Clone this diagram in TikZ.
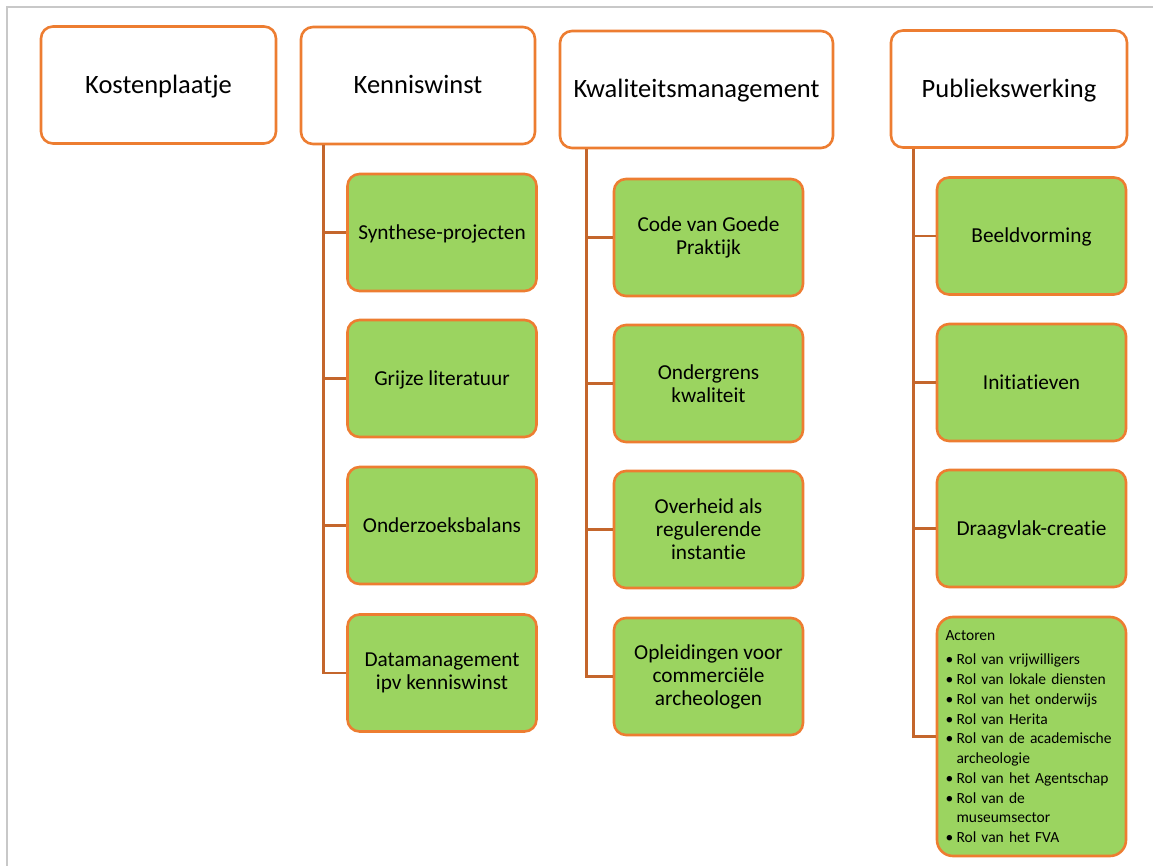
\documentclass[tikz,border=0pt]{standalone}
\usepackage{fontspec}
\setmainfont{Carlito}[Ligatures={NoCommon,NoContextual}]
\definecolor{boxline}{RGB}{237,125,49}
\definecolor{connline}{RGB}{196,102,44}
\definecolor{leafgreen}{RGB}{155,212,96}
\definecolor{frameline}{RGB}{200,200,200}
\tikzset{
  headbox/.style={draw=boxline, fill=white, line width=2.6pt, rounded corners=12pt,
    minimum height=117pt, inner sep=0pt,
    text height=17pt, text depth=0pt,
    font=\fontsize{26.5}{30}\selectfont},
  leafbox/.style={draw=boxline, fill=leafgreen, line width=2.6pt, rounded corners=12pt,
    minimum width=189pt, minimum height=117pt, inner sep=0pt,
    font=\fontsize{21.3}{23}\selectfont},
  % single-line labels: centre the capitals in the box
  oneline/.style={text height=13.7pt, text depth=0pt},
  multiline/.style={align=center},
  conn/.style={draw=connline, line width=2.8pt},
}
\begin{document}
\begin{tikzpicture}[x=1pt,y=-1pt]
\useasboundingbox (0,0) rectangle (1153,866);
% page frame
\draw[frameline, line width=1.5pt] (7,866) -- (7,7) -- (1153,7);

% top-level boxes
\node[headbox, minimum width=235pt] (kost) at (158.5,85) {Kostenplaatje};
\node[headbox, minimum width=234pt] (kenn) at (418,85.5) {Kenniswinst};
\node[headbox, minimum width=273pt] (kwal) at (696.5,89.5) {Kwaliteitsmanagement};
\node[headbox, minimum width=236pt] (publ) at (1009,89) {Publiekswerking};

% Kenniswinst
\node[leafbox, oneline] (ken1) at (442,232.5) {Synthese-projecten};
\node[leafbox, oneline] (ken2) at (442,378.5) {Grijze literatuur};
\node[leafbox, oneline] (ken3) at (442,525.5) {Onderzoeksbalans};
\node[leafbox, multiline] (ken4) at (442,673) {Datamanagement\\ipv kenniswinst};

% Kwaliteitsmanagement
\node[leafbox, multiline] (kwa1) at (708.5,237.5) {Code van Goede\\Praktijk};
\node[leafbox, multiline] (kwa2) at (708.5,383.5) {Ondergrens\\kwaliteit};
\node[leafbox, multiline] (kwa3) at (708.5,529.5) {Overheid als\\regulerende\\instantie};
\node[leafbox, multiline] (kwa4) at (708.5,676.5) {Opleidingen voor\\commerciële\\archeologen};

% Publiekswerking
\node[leafbox, oneline] (pub1) at (1031.5,236) {Beeldvorming};
\node[leafbox, oneline] (pub2) at (1031.5,382.5) {Initiatieven};
\node[leafbox, oneline] (pub3) at (1031.5,528.5) {Draagvlak-creatie};
\node[leafbox, rounded corners=16pt, minimum height=239pt, text width=172pt,
      align=left, font=\fontsize{15.5}{19.75}\selectfont] (pub4) at (1031.5,736.5)
  {Actoren\\[5pt]
   \makebox[11pt][l]{\textbullet}Rol van vrijwilligers\\
   \makebox[11pt][l]{\textbullet}Rol van lokale diensten\\
   \makebox[11pt][l]{\textbullet}Rol van het onderwijs\\
   \makebox[11pt][l]{\textbullet}Rol van Herita\\
   \makebox[11pt][l]{\textbullet}Rol van de academische\\
   \hspace*{11pt}archeologie\\
   \makebox[11pt][l]{\textbullet}Rol van het Agentschap\\
   \makebox[11pt][l]{\textbullet}Rol van de\\
   \hspace*{11pt}museumsector\\
   \makebox[11pt][l]{\textbullet}Rol van het FVA};

% connectors: one spine per column, a branch to each child
\foreach \c in {ken1,ken2,ken3,ken4}
  \draw[conn] ([xshift=24pt]kenn.south west) |- (\c.west);
\foreach \c in {kwa1,kwa2,kwa3,kwa4}
  \draw[conn] ([xshift=28pt]kwal.south west) |- (\c.west);
\foreach \c in {pub1,pub2,pub3,pub4}
  \draw[conn] ([xshift=24pt]publ.south west) |- (\c.west);
\end{tikzpicture}
\end{document}
